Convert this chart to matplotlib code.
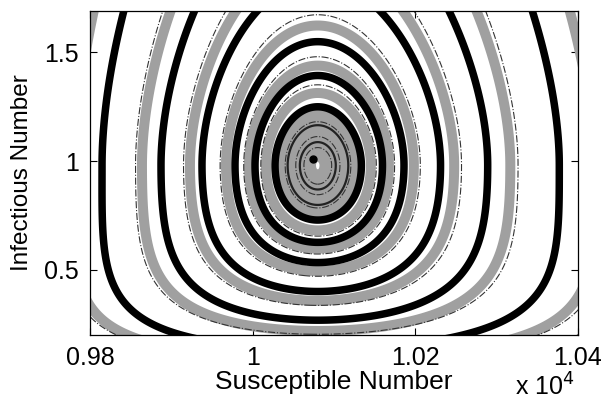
import numpy as np
import matplotlib
matplotlib.use("Agg")
import matplotlib.pyplot as plt
from matplotlib.ticker import FixedLocator

# ---------------- data ----------------
# Orbits are identified by the susceptible number at which they cross the
# horizontal line I = I_eq on the left-hand side of the equilibrium.
black_orbit_left_S = [9745.0, 9814.8, 9887.3, 9937.7, 9978.3, 10002.9, 10027.5]
thin_black_orbit_left_S = [10043.0, 10058.0]
gray_orbit_left_S = [9714.0, 9781.6, 9863.9, 9922.9, 9967.2, 9995.5, 10016.4,
                     10032.4, 10037.3, 10042.2, 10047.1, 10052.0, 10057.0,
                     10061.9, 10066.8, 10071.7]
dashed_orbit_left_S = [9706.0, 9774.0, 9856.0, 9915.0, 9960.0, 9989.0, 10010.0,
                       10040.0, 10053.0, 10063.0]
equilibrium_S = 10074.0
equilibrium_I = 1.01

# first-integral parameters
S0, I_eq = 10080.0, 0.98
sS, aS = 198.0, -0.24
high_I_gain, low_I_gain, low_I_widen = 1.12, 0.90, 0.25

xticks = [9800, 10000, 10200, 10400]
xticklabels = ["0.98", "1", "1.02", "1.04"]
yticks = [0.5, 1.0, 1.5]
yticklabels = ["0.5", "1", "1.5"]
xlim = (9800, 10400)
ylim = (0.2, 1.69)


def Fpart(S, I):
    widen = 1.0 + low_I_widen * np.clip(I_eq - I, 0.0, None) ** 2
    u = (S - S0) / (sS * widen)
    return 2.0 * (np.exp(aS * u) - 1.0 - aS * u) / aS ** 2


def Gpart(I):
    y = I / I_eq
    g = 2.0 * (y - 1.0 - np.log(y))
    return np.where(y < 1.0, low_I_gain * g, high_I_gain * g)


def H(S, I):
    return Fpart(S, I) + Gpart(I)


def levels_for(left_S):
    return sorted(set(float(H(s, I_eq)) for s in left_S))


plt.rcParams["font.family"] = ["Liberation Sans", "DejaVu Sans"]
fig = plt.figure(figsize=(6.04, 4.0), dpi=100)
ax = fig.add_axes([90 / 604, 1 - 335 / 400, (578 - 90) / 604, (335 - 11) / 400])

Sg = np.linspace(9450, 10750, 1100)
Ig = np.linspace(0.02, 3.5, 1100)
SS, II = np.meshgrid(Sg, Ig)
HH = H(SS, II)

ax.contour(SS, II, HH, levels=levels_for(gray_orbit_left_S), colors="#a0a0a0",
           linewidths=7.2, linestyles="solid")
ax.contour(SS, II, HH, levels=levels_for(dashed_orbit_left_S), colors="#333333",
           linewidths=0.8, linestyles="dashdot")
ax.contour(SS, II, HH, levels=levels_for(thin_black_orbit_left_S),
           colors="#222222", linewidths=1.6, linestyles="solid")
ax.contour(SS, II, HH, levels=levels_for(black_orbit_left_S), colors="black",
           linewidths=5.4, linestyles="solid")
ax.plot([equilibrium_S], [equilibrium_I], "o", color="black", ms=5)

ax.set_xlim(*xlim)
ax.set_ylim(*ylim)
ax.xaxis.set_major_locator(FixedLocator(xticks))
ax.set_xticklabels(xticklabels)
ax.yaxis.set_major_locator(FixedLocator(yticks))
ax.set_yticklabels(yticklabels)
ax.tick_params(direction="in", length=5, width=0.8, top=True, right=True,
               labelsize=18, pad=8)
for sp in ax.spines.values():
    sp.set_linewidth(0.9)
ax.set_xlabel("Susceptible Number", fontsize=19, labelpad=0)
ax.set_ylabel("Infectious Number", fontsize=17.5, labelpad=8)
fig.text(545 / 604, 1 - 387 / 400, r"x 10$^{4}$", fontsize=18, ha="center",
         va="center")

fig.savefig("out.png", dpi=100, facecolor="white")
